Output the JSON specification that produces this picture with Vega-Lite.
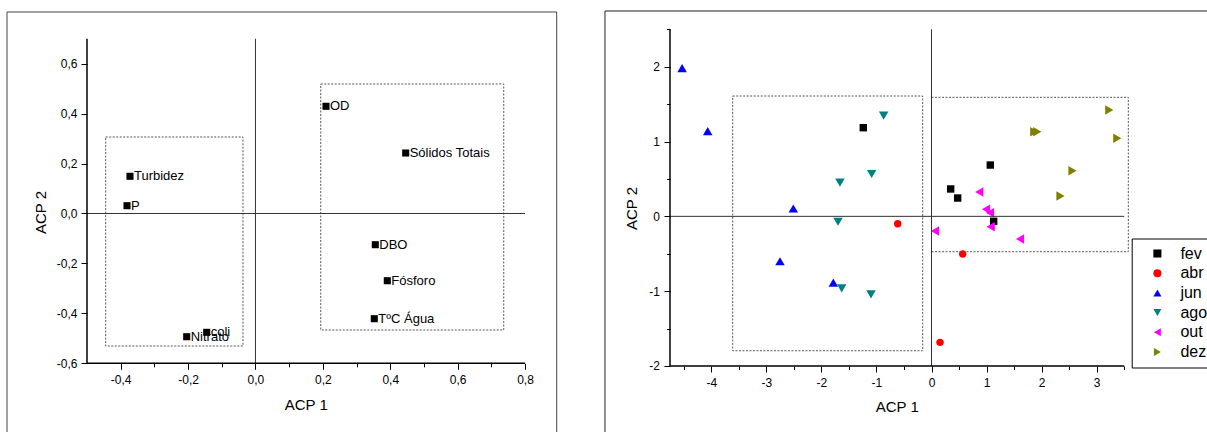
{
  "$schema": "https://vega.github.io/schema/vega-lite/v6.json",
  "width": 1207,
  "height": 432,
  "padding": 0,
  "autosize": {"type": "none"},
  "background": "white",
  "config": {"view": {"stroke": null}, "font": "Liberation Sans"},
  "datasets": {
    "vars": [
      {"name": "OD", "acp1": 0.2094, "acp2": 0.4293},
      {"name": "Sólidos Totais", "acp1": 0.4459, "acp2": 0.2422},
      {"name": "Turbidez", "acp1": -0.3724, "acp2": 0.1489},
      {"name": "P", "acp1": -0.3813, "acp2": 0.0312},
      {"name": "DBO", "acp1": 0.3557, "acp2": -0.125},
      {"name": "Fósforo", "acp1": 0.3913, "acp2": -0.2692},
      {"name": "TºC Água", "acp1": 0.3527, "acp2": -0.4214},
      {"name": "Nitrato", "acp1": -0.2041, "acp2": -0.4935},
      {"name": "coli", "acp1": -0.1447, "acp2": -0.4759}
    ],
    "lrects": [
      {"x1": -0.4445, "x2": -0.037, "y1": 0.3063, "y2": -0.5307},
      {"x1": 0.1937, "x2": 0.7369, "y1": 0.5186, "y2": -0.4666}
    ],
    "rrects": [
      {"x1": -3.611, "x2": -0.16, "y1": 1.6085, "y2": -1.796},
      {"x1": 0.0, "x2": 3.575, "y1": 1.591, "y2": -0.4725}
    ],
    "months": [
      {"mes": "fev", "acp1": -1.239, "acp2": 1.185},
      {"mes": "fev", "acp1": 1.068, "acp2": 0.686},
      {"mes": "fev", "acp1": 0.348, "acp2": 0.366},
      {"mes": "fev", "acp1": 0.475, "acp2": 0.245},
      {"mes": "fev", "acp1": 1.129, "acp2": -0.066},
      {"mes": "abr", "acp1": -0.614, "acp2": -0.098},
      {"mes": "abr", "acp1": 0.567, "acp2": -0.503},
      {"mes": "abr", "acp1": 0.155, "acp2": -1.684},
      {"mes": "jun", "acp1": -4.53, "acp2": 1.98},
      {"mes": "jun", "acp1": -4.065, "acp2": 1.14},
      {"mes": "jun", "acp1": -2.51, "acp2": 0.105},
      {"mes": "jun", "acp1": -2.752, "acp2": -0.6},
      {"mes": "jun", "acp1": -1.783, "acp2": -0.885},
      {"mes": "ago", "acp1": -0.869, "acp2": 1.345},
      {"mes": "ago", "acp1": -1.087, "acp2": 0.566},
      {"mes": "ago", "acp1": -1.663, "acp2": 0.45},
      {"mes": "ago", "acp1": -1.698, "acp2": -0.072},
      {"mes": "ago", "acp1": -1.631, "acp2": -0.962},
      {"mes": "ago", "acp1": -1.099, "acp2": -1.042},
      {"mes": "out", "acp1": 0.868, "acp2": 0.325},
      {"mes": "out", "acp1": 0.99, "acp2": 0.094},
      {"mes": "out", "acp1": 1.062, "acp2": 0.049},
      {"mes": "out", "acp1": 1.075, "acp2": -0.138},
      {"mes": "out", "acp1": 0.063, "acp2": -0.196},
      {"mes": "out", "acp1": 1.608, "acp2": -0.302},
      {"mes": "dez", "acp1": 3.229, "acp2": 1.421},
      {"mes": "dez", "acp1": 1.867, "acp2": 1.131},
      {"mes": "dez", "acp1": 1.922, "acp2": 1.131},
      {"mes": "dez", "acp1": 3.375, "acp2": 1.043},
      {"mes": "dez", "acp1": 2.561, "acp2": 0.61},
      {"mes": "dez", "acp1": 2.343, "acp2": 0.272}
    ]
  },
  "layer": [
    {
      "layer": [
        {
          "data": {"name": "vars"},
          "mark": {"type": "point", "shape": "square", "filled": true, "size": 50, "color": "black", "opacity": 1},
          "encoding": {
            "x": {"field": "acp1", "type": "quantitative",
              "scale": {"domain": [-0.7582, 2.8242], "nice": false, "zero": false},
              "axis": {"orient": "bottom", "offset": -68.7, "domain": false, "grid": false,
                "values": [-0.4, -0.3, -0.2, -0.1, 0, 0.1, 0.2, 0.3, 0.4, 0.5, 0.6, 0.7, 0.8],
                "labelExpr": "abs(datum.value*5-round(datum.value*5))<0.001 ? replace(replace(format(datum.value,'.1f'),'.',','),'\u2212','-') : ''",
                "tickSize": {"condition": {"test": "abs(datum.value*5-round(datum.value*5))<0.001", "value": 6}, "value": 3.5},
                "tickColor": "black", "tickWidth": 1, "labelFontSize": 12, "labelColor": "black",
                "labelPadding": 5, "labelOverlap": false, "labelFlush": false,
                "title": "ACP 1", "titleX": 305.7, "titleY": 40.7, "titleAlign": "center", "titleBaseline": "middle",
                "titleFontSize": 15, "titleFontWeight": "normal", "titleColor": "black"}},
            "y": {"field": "acp2", "type": "quantitative",
              "scale": {"domain": [-0.8751, 0.855], "nice": false, "zero": false},
              "axis": {"orient": "left", "offset": -87, "domain": false, "grid": false,
                "values": [-0.6, -0.5, -0.4, -0.3, -0.2, -0.1, 0, 0.1, 0.2, 0.3, 0.4, 0.5, 0.6, 0.7],
                "labelExpr": "abs(datum.value*5-round(datum.value*5))<0.001 ? replace(replace(format(datum.value,'.1f'),'.',','),'\u2212','-') : ''",
                "tickSize": {"condition": {"test": "abs(datum.value*5-round(datum.value*5))<0.001", "value": 6}, "value": 3.5},
                "tickColor": "black", "tickWidth": 1, "labelFontSize": 12, "labelColor": "black",
                "labelPadding": 4, "labelOverlap": false, "labelFlush": false,
                "title": "ACP 2", "titleX": -47, "titleY": 212, "titleAngle": -90, "titleAlign": "center", "titleBaseline": "middle",
                "titleFontSize": 15, "titleFontWeight": "normal", "titleColor": "black"}}
          }
        },
        {
          "data": {"name": "vars"},
          "mark": {"type": "text", "align": "left", "baseline": "middle", "dx": 4, "fontSize": 13, "font": "Liberation Sans", "color": "black"},
          "encoding": {
            "x": {"field": "acp1", "type": "quantitative"},
            "y": {"field": "acp2", "type": "quantitative"},
            "text": {"field": "name"}
          }
        },
        {
          "data": {"name": "lrects"},
          "mark": {"type": "rect", "fillOpacity": 0, "stroke": "#555555", "strokeWidth": 1, "strokeDash": [2, 1.5]},
          "encoding": {
            "x": {"field": "x1", "type": "quantitative"},
            "x2": {"field": "x2"},
            "y": {"field": "y1", "type": "quantitative"},
            "y2": {"field": "y2"}
          }
        },
        {
          "data": {"values": [{}]},
          "mark": {"type": "rect", "fillOpacity": 0, "stroke": "#444444", "strokeWidth": 1},
          "encoding": {
            "x": {"datum": -0.7374, "type": "quantitative"},
            "x2": {"datum": 0.8941},
            "y": {"datum": 0.807, "type": "quantitative"},
            "y2": {"datum": -0.95}
          }
        },
        {
          "data": {"values": [{}]},
          "mark": {"type": "rule", "color": "#333333", "strokeWidth": 1},
          "encoding": {
            "x": {"datum": -0.5, "type": "quantitative"},
            "x2": {"datum": 0.8},
            "y": {"datum": 0, "type": "quantitative"}
          }
        },
        {
          "data": {"values": [{}]},
          "mark": {"type": "rule", "color": "#333333", "strokeWidth": 1},
          "encoding": {
            "x": {"datum": 0, "type": "quantitative"},
            "y": {"datum": -0.6, "type": "quantitative"},
            "y2": {"datum": 0.7}
          }
        },
        {
          "data": {"values": [{}]},
          "mark": {"type": "rule", "color": "black", "strokeWidth": 1.5},
          "encoding": {
            "x": {"datum": -0.5, "type": "quantitative"},
            "x2": {"datum": 0.8},
            "y": {"datum": -0.6, "type": "quantitative"}
          }
        },
        {
          "data": {"values": [{}]},
          "mark": {"type": "rule", "color": "black", "strokeWidth": 1.5},
          "encoding": {
            "x": {"datum": -0.5, "type": "quantitative"},
            "y": {"datum": -0.6, "type": "quantitative"},
            "y2": {"datum": 0.7}
          }
        }
      ]
    },
    {
      "layer": [
        {
          "data": {"name": "months"},
          "transform": [{"filter": {"field": "mes", "oneOf": ["fev", "abr"]}}],
          "mark": {"type": "point", "filled": true, "size": 55, "opacity": 1},
          "encoding": {
            "x": {"field": "acp1", "type": "quantitative",
              "scale": {"domain": [-16.9196, 5.004], "nice": false, "zero": false},
              "axis": {"orient": "bottom", "offset": -66, "domain": false, "grid": false,
                "values": [-4.5, -4, -3.5, -3, -2.5, -2, -1.5, -1, -0.5, 0, 0.5, 1, 1.5, 2, 2.5, 3, 3.5],
                "labelExpr": "datum.value==round(datum.value) ? replace(format(datum.value,'d'),'\u2212','-') : ''",
                "tickSize": {"condition": {"test": "datum.value==round(datum.value)", "value": 6}, "value": 3.5},
                "tickColor": "black", "tickWidth": 1, "labelFontSize": 12, "labelColor": "black",
                "labelPadding": 5, "labelOverlap": false, "labelFlush": false,
                "title": "ACP 1", "titleX": 896.7, "titleY": 40.7, "titleAlign": "center", "titleBaseline": "middle",
                "titleFontSize": 15, "titleFontWeight": "normal", "titleColor": "black"}},
            "y": {"field": "acp2", "type": "quantitative",
              "scale": {"domain": [-2.8821, 2.8916], "nice": false, "zero": false},
              "axis": {"orient": "left", "offset": -670, "domain": false, "grid": false,
                "values": [-2, -1.5, -1, -0.5, 0, 0.5, 1, 1.5, 2, 2.5],
                "labelExpr": "datum.value==round(datum.value) ? replace(format(datum.value,'d'),'\u2212','-') : ''",
                "tickSize": {"condition": {"test": "datum.value==round(datum.value)", "value": 6}, "value": 3.5},
                "tickColor": "black", "tickWidth": 1, "labelFontSize": 12, "labelColor": "black",
                "labelPadding": 4.5, "labelOverlap": false, "labelFlush": false,
                "title": "ACP 2", "titleX": -38.2, "titleY": 208, "titleAngle": -90, "titleAlign": "center", "titleBaseline": "middle",
                "titleFontSize": 15, "titleFontWeight": "normal", "titleColor": "black"}},
            "color": {"field": "mes", "type": "nominal",
              "scale": {"domain": ["fev", "abr", "jun", "ago", "out", "dez"], "range": ["#000000", "#ff0000", "#0000ff", "#008080", "#ff00ff", "#808000"]},
              "legend": {"orient": "none", "legendX": 1131.7, "legendY": 238.5, "title": null, "padding": 7, "rowPadding": 3.7,
                "strokeColor": "black", "fillColor": "white", "symbolOffset": 10.7, "labelOffset": 15, "symbolSize": 65,
                "labelFontSize": 16, "labelColor": "black", "symbolStrokeWidth": 0}},
            "shape": {"field": "mes", "type": "nominal",
              "scale": {"domain": ["fev", "abr", "jun", "ago", "out", "dez"], "range": ["square", "circle", "triangle-up", "triangle-down", "triangle-left", "triangle-right"]}}
          }
        },
        {
          "data": {"name": "months"},
          "transform": [{"filter": {"field": "mes", "oneOf": ["jun", "ago", "out", "dez"]}}],
          "mark": {"type": "point", "filled": true, "size": 90, "opacity": 1},
          "encoding": {
            "x": {"field": "acp1", "type": "quantitative"},
            "y": {"field": "acp2", "type": "quantitative"},
            "color": {"field": "mes", "type": "nominal"},
            "shape": {"field": "mes", "type": "nominal"}
          }
        },
        {
          "data": {"name": "rrects"},
          "mark": {"type": "rect", "fillOpacity": 0, "stroke": "#555555", "strokeWidth": 1, "strokeDash": [2, 1.5]},
          "encoding": {
            "x": {"field": "x1", "type": "quantitative"},
            "x2": {"field": "x2"},
            "y": {"field": "y1", "type": "quantitative"},
            "y2": {"field": "y2"}
          }
        },
        {
          "data": {"values": [{}]},
          "mark": {"type": "rect", "fillOpacity": 0, "stroke": "#222222", "strokeWidth": 1},
          "encoding": {
            "x": {"datum": -5.931, "type": "quantitative"},
            "x2": {"datum": 5.6},
            "y": {"datum": 2.7446, "type": "quantitative"},
            "y2": {"datum": -3.1}
          }
        },
        {
          "data": {"values": [{}]},
          "mark": {"type": "rule", "color": "#333333", "strokeWidth": 1},
          "encoding": {
            "x": {"datum": -4.75, "type": "quantitative"},
            "x2": {"datum": 3.5},
            "y": {"datum": 0, "type": "quantitative"}
          }
        },
        {
          "data": {"values": [{}]},
          "mark": {"type": "rule", "color": "#333333", "strokeWidth": 1},
          "encoding": {
            "x": {"datum": 0, "type": "quantitative"},
            "y": {"datum": -2, "type": "quantitative"},
            "y2": {"datum": 2.5}
          }
        },
        {
          "data": {"values": [{}]},
          "mark": {"type": "rule", "color": "black", "strokeWidth": 1.5},
          "encoding": {
            "x": {"datum": -4.75, "type": "quantitative"},
            "x2": {"datum": 3.5},
            "y": {"datum": -2, "type": "quantitative"}
          }
        },
        {
          "data": {"values": [{}]},
          "mark": {"type": "rule", "color": "black", "strokeWidth": 1.5},
          "encoding": {
            "x": {"datum": -4.75, "type": "quantitative"},
            "y": {"datum": -2, "type": "quantitative"},
            "y2": {"datum": 2.5}
          }
        }
      ]
    }
  ],
  "resolve": {"scale": {"x": "independent", "y": "independent"}}
}
